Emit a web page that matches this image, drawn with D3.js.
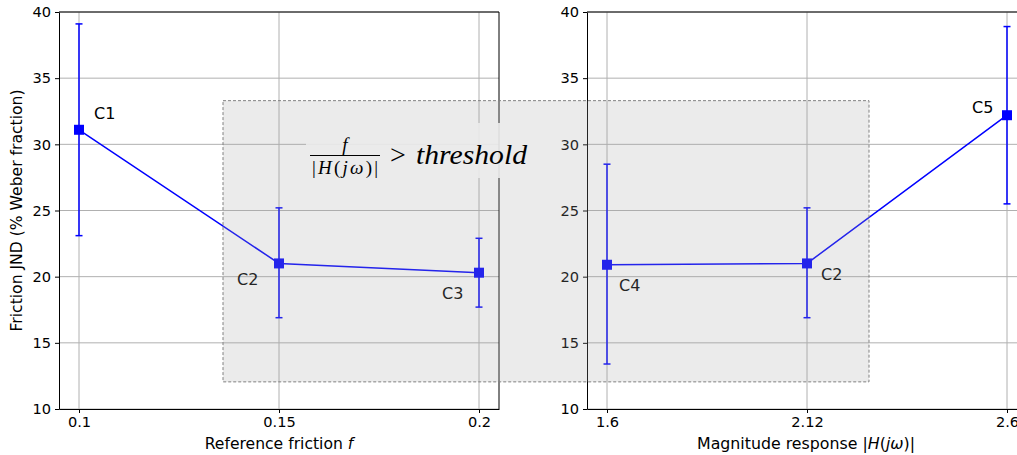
<!DOCTYPE html>
<html>
<head>
<meta charset="utf-8">
<title>Friction JND</title>
<style>
  body { margin: 0; background: #fff; }
  .grid line { stroke: #b0b0b0; stroke-width: 1; }
  .axis path, .axis line { stroke: #000; }
</style>
<script src="https://cdn.jsdelivr.net/npm/d3@7"></script>
</head>
<body>
<svg width="1017" height="455"></svg>
<script>
// left panel: JND vs reference friction
var frictionVals = [0.1, 0.15, 0.2];
var frictionJnd  = [31.1, 21.0, 20.3];
var frictionLo   = [23.1, 16.9, 17.7];
var frictionHi   = [39.1, 25.2, 22.9];
var frictionLbl  = ["C1", "C2", "C3"];

// right panel: JND vs magnitude response (evenly spaced categories)
var magTicks = ["1.6", "2.12", "2.6"];
var magJnd   = [20.9, 21.0, 32.2];
var magLo    = [13.4, 16.9, 25.5];
var magHi    = [28.5, 25.2, 38.9];
var magLbl   = ["C4", "C2", "C5"];

var yTicks = [10, 15, 20, 25, 30, 35, 40];

// label offsets in px from the point (like annotate xytext)
var leftOffsets  = [[15, -11], [-42, 22], [-37, 26]];
var rightOffsets = [[12, 26], [14, 17], [-35, -2]];

var svg = d3.select("svg").attr("font-family", "'DejaVu Sans', sans-serif");
var plotTop = 12, plotBottom = 409;

var y = d3.scaleLinear().domain([10, 40]).range([plotBottom, plotTop]);
var xL = d3.scaleLinear().domain([0.095, 0.205]).range([59, 499]);
var xR = d3.scaleLinear().domain([-0.1, 2.1]).range([587, 1027]);

function panel(x, xs, vals, lo, hi, lbls, offs, tickVals, tickFmt, rightSpine) {
  var g = svg.append("g");
  var x0 = x.range()[0], x1 = x.range()[1];

  // grid
  g.append("g").attr("class", "grid").selectAll("line").data(yTicks).enter().append("line")
    .attr("x1", x0).attr("x2", x1).attr("y1", function(d) { return y(d); }).attr("y2", function(d) { return y(d); });
  g.append("g").attr("class", "grid").selectAll("line").data(tickVals).enter().append("line")
    .attr("x1", function(d) { return x(d); }).attr("x2", function(d) { return x(d); })
    .attr("y1", plotTop).attr("y2", plotBottom);

  // axes
  var ax = g.append("g").attr("class", "axis")
    .attr("transform", "translate(0," + plotBottom + ")")
    .call(d3.axisBottom(x).tickValues(tickVals).tickFormat(tickFmt).tickSize(4).tickPadding(4).tickSizeOuter(0));
  var ay = g.append("g").attr("class", "axis")
    .attr("transform", "translate(" + x0 + ",0)")
    .call(d3.axisLeft(y).tickValues(yTicks).tickSize(4).tickPadding(4).tickSizeOuter(0));
  [ax, ay].forEach(function(a) {
    a.attr("font-family", null).attr("font-size", 14.6);
    a.selectAll("text").attr("fill", "#000");
  });
  g.append("line").attr("x1", x0).attr("x2", x1).attr("y1", plotTop).attr("y2", plotTop).attr("stroke", "#000");
  if (rightSpine) {
    g.append("line").attr("x1", x1).attr("x2", x1).attr("y1", plotTop).attr("y2", plotBottom).attr("stroke", "#000");
  }

  // error bars
  var eb = g.append("g").attr("stroke", "#0000ff").attr("stroke-width", 1.5);
  xs.forEach(function(xv, i) {
    eb.append("line").attr("x1", x(xv)).attr("x2", x(xv)).attr("y1", y(lo[i])).attr("y2", y(hi[i]));
    eb.append("line").attr("x1", x(xv) - 3.5).attr("x2", x(xv) + 3.5).attr("y1", y(lo[i])).attr("y2", y(lo[i]));
    eb.append("line").attr("x1", x(xv) - 3.5).attr("x2", x(xv) + 3.5).attr("y1", y(hi[i])).attr("y2", y(hi[i]));
  });

  // line + markers
  var pts = xs.map(function(xv, i) { return [xv, vals[i]]; });
  g.append("path").datum(pts)
    .attr("fill", "none").attr("stroke", "#0000ff").attr("stroke-width", 1.5)
    .attr("d", d3.line().x(function(d) { return x(d[0]); }).y(function(d) { return y(d[1]); }));
  g.selectAll("rect.m").data(pts).enter().append("rect")
    .attr("x", function(d) { return x(d[0]) - 5; })
    .attr("y", function(d) { return y(d[1]) - 5; })
    .attr("width", 10).attr("height", 10).attr("fill", "#0000ff");

  // point labels
  g.selectAll("text.lbl").data(pts).enter().append("text")
    .attr("x", function(d, i) { return x(d[0]) + offs[i][0]; })
    .attr("y", function(d, i) { return y(d[1]) + offs[i][1]; })
    .attr("font-size", 16).attr("fill", "#000")
    .text(function(d, i) { return lbls[i]; });
}

panel(xL, frictionVals, frictionJnd, frictionLo, frictionHi, frictionLbl, leftOffsets,
      frictionVals, function(d) { return String(d); }, true);
panel(xR, [0, 1, 2], magJnd, magLo, magHi, magLbl, rightOffsets,
      [0, 1, 2], function(d) { return magTicks[d]; }, false);

// y label
svg.append("text")
  .attr("transform", "translate(22," + ((plotTop + plotBottom) / 2) + ") rotate(-90)")
  .attr("text-anchor", "middle").attr("font-size", 15.6)
  .text("Friction JND (% Weber fraction)");

// x labels
var xl1 = svg.append("text").attr("x", 279).attr("y", 449).attr("text-anchor", "middle").attr("font-size", 15.6);
xl1.append("tspan").text("Reference friction ");
xl1.append("tspan").attr("font-style", "italic").text("f");

var xl2 = svg.append("text").attr("x", 806).attr("y", 449).attr("text-anchor", "middle").attr("font-size", 15.8);
xl2.append("tspan").text("Magnitude response |");
xl2.append("tspan").attr("font-style", "italic").text("H");
xl2.append("tspan").text("(");
xl2.append("tspan").attr("font-style", "italic").text("jω");
xl2.append("tspan").text(")|");

// shaded region spanning both panels
svg.append("rect")
  .attr("x", xL(0.136)).attr("y", y(33.3))
  .attr("width", xL(0.2975) - xL(0.136)).attr("height", y(12.05) - y(33.3))
  .attr("fill", "#a3a3a3").attr("fill-opacity", 0.22)
  .attr("stroke", "#808080").attr("stroke-width", 1).attr("stroke-dasharray", "3,2");

// formula with its box
var fg = svg.append("g").attr("font-family", "'Liberation Serif', 'DejaVu Serif', serif");
fg.append("rect").attr("x", 306).attr("y", 123).attr("width", 226).attr("height", 55)
  .attr("fill", "#ebebeb").attr("fill-opacity", 0.9);
fg.append("text").attr("x", 345).attr("y", 151).attr("text-anchor", "middle")
  .attr("font-size", 19).attr("font-style", "italic").text("f");
fg.append("line").attr("x1", 310).attr("x2", 380).attr("y1", 155.5).attr("y2", 155.5)
  .attr("stroke", "#000").attr("stroke-width", 1);
var den = fg.append("text").attr("x", 345).attr("y", 174).attr("text-anchor", "middle")
  .attr("font-size", 19).attr("textLength", 66).attr("lengthAdjust", "spacing");
den.append("tspan").text("|");
den.append("tspan").attr("font-style", "italic").text("H");
den.append("tspan").text("(");
den.append("tspan").attr("font-style", "italic").text("jω");
den.append("tspan").text(")|");
fg.append("text").attr("x", 390).attr("y", 164).attr("font-size", 28).text(">");
fg.append("text").attr("x", 416).attr("y", 164).attr("font-size", 28)
  .attr("font-style", "italic")
  .attr("textLength", 111).attr("lengthAdjust", "spacingAndGlyphs").text("threshold");
</script>
</body>
</html>
